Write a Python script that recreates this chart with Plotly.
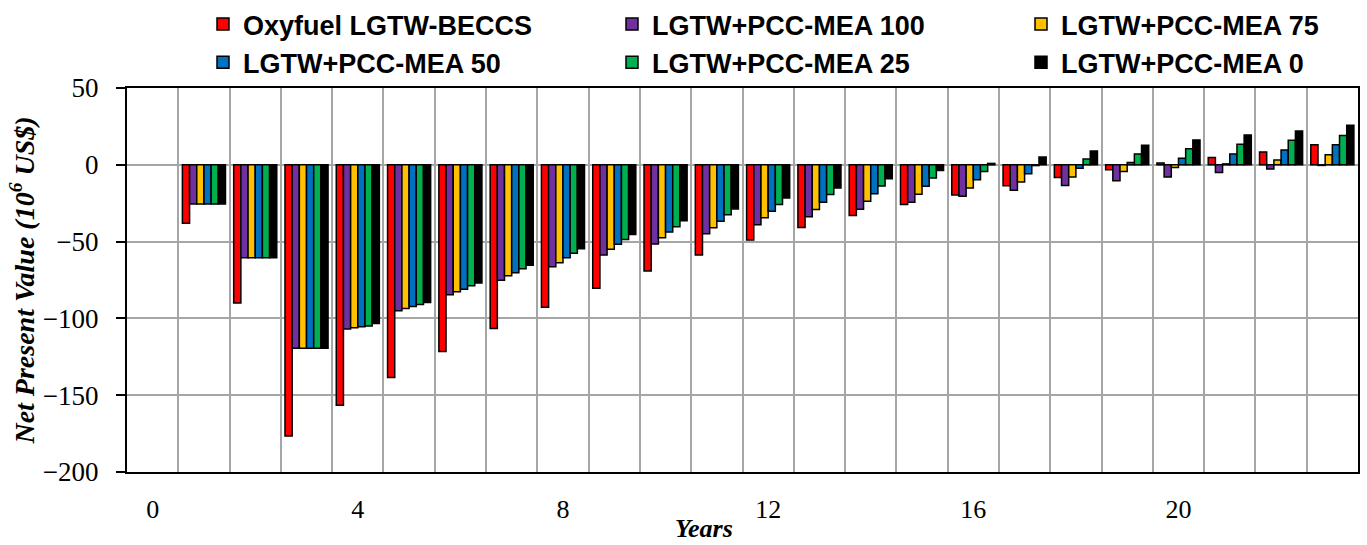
import plotly.graph_objects as go

years = list(range(0, 24))
tick_years = [0, 4, 8, 12, 16, 20]
tick_labels = ["0", "4", "8", "12", "16", "20"]

oxyfuel = [None, -38, -90, -176.5, -156.5, -138.5, -121.5, -106.5, -92.8, -80.3, -69.1, -58.7, -49.0, -40.8, -33.0, -25.9, -19.6, -13.6, -8.2, -3.2, 1.1, 4.7, 8.4, 13.0]
mea100 = [None, -25.5, -60.5, -119.4, -106.9, -95.0, -84.6, -75.1, -66.3, -58.7, -51.6, -44.9, -39.1, -33.9, -28.9, -24.4, -20.5, -16.6, -13.4, -10.4, -8.0, -5.0, -2.8, -0.4]
mea75 = [None, -25.5, -60.5, -119.4, -106.1, -93.5, -82.7, -72.3, -63.7, -55.0, -47.5, -41.0, -34.5, -29.1, -23.8, -19.2, -15.1, -11.2, -8.0, -4.3, -1.7, 0.6, 3.2, 6.5]
mea50 = [None, -25.5, -60.5, -119.4, -105.5, -92.2, -81.0, -70.2, -60.5, -51.8, -43.8, -36.7, -30.2, -24.4, -18.8, -14.0, -9.7, -5.8, -2.2, 1.5, 4.3, 7.1, 9.7, 13.0]
mea25 = [None, -25.5, -60.5, -119.4, -104.9, -90.9, -78.8, -67.6, -57.6, -48.6, -40.4, -32.6, -25.9, -19.4, -13.8, -8.6, -4.3, -0.5, 3.7, 7.1, 10.4, 13.4, 16.0, 19.0]
mea0 = [None, -25.5, -60.5, -119.4, -103.4, -89.6, -77.0, -65.4, -54.6, -45.3, -36.5, -28.7, -21.6, -15.1, -9.1, -3.7, 0.9, 5.0, 9.0, 12.7, 16.2, 19.4, 22.0, 25.7]

series = [
    ("Oxyfuel LGTW-BECCS", oxyfuel, "#FF0000"),
    ("LGTW+PCC-MEA 100", mea100, "#7030A0"),
    ("LGTW+PCC-MEA 75", mea75, "#FFC000"),
    ("LGTW+PCC-MEA 50", mea50, "#0070C0"),
    ("LGTW+PCC-MEA 25", mea25, "#00B050"),
    ("LGTW+PCC-MEA 0", mea0, "#000000"),
]

fig = go.Figure()
for name, vals, color in series:
    fig.add_trace(go.Bar(
        x=years, y=vals, name=name,
        marker=dict(color=color, line=dict(color="black", width=1.5)),
    ))

grid = "#A6A6A6"
fig.update_layout(
    width=1367, height=545,
    margin=dict(l=127, r=9, t=88, b=73, autoexpand=False),
    plot_bgcolor="white", paper_bgcolor="white",
    barmode="group", bargap=0.16, bargroupgap=0,
    legend=dict(
        orientation="h", xref="container", yref="container",
        x=0.1485, y=1.0, xanchor="left", yanchor="top",
        entrywidth=364, entrywidthmode="pixels",
        font=dict(family="Liberation Sans", size=27, color="black", weight="bold"),
        itemwidth=30, tracegroupgap=0, bgcolor="rgba(0,0,0,0)",
    ),
    xaxis=dict(
        range=[-0.5, 23.5], tickmode="array", tickvals=tick_years, ticktext=tick_labels,
        showgrid=False, zeroline=False,
        showline=True, mirror=True, linecolor="black", linewidth=2,
        ticks="", ticklabelstandoff=13,
        tickfont=dict(family="Liberation Serif", size=26, color="black"),
        minor=dict(tick0=0.5, dtick=1, showgrid=True, gridcolor=grid, gridwidth=1.5, ticks=""),
    ),
    yaxis=dict(
        range=[-200, 50], dtick=50, tick0=0,
        showgrid=True, gridcolor=grid, gridwidth=1.5,
        zeroline=True, zerolinecolor=grid, zerolinewidth=1.5,
        showline=True, mirror=True, linecolor="black", linewidth=2,
        ticks="outside", ticklen=9, tickwidth=1.5, tickcolor="black",
        ticklabelstandoff=12,
        tickfont=dict(family="Liberation Serif", size=27, color="black"),
        title=dict(text="<b><i>Net Present Value (10<sup>6</sup> US$)</i></b>", standoff=0,
                   font=dict(family="Liberation Serif", size=28, color="black")),
    ),
    annotations=[dict(
        text="<b><i>Years</i></b>", xref="paper", yref="paper", x=0.469, y=-0.146,
        xanchor="center", yanchor="middle", showarrow=False,
        font=dict(family="Liberation Serif", size=26, color="black"),
    )],
)

fig.write_html("out.html")
